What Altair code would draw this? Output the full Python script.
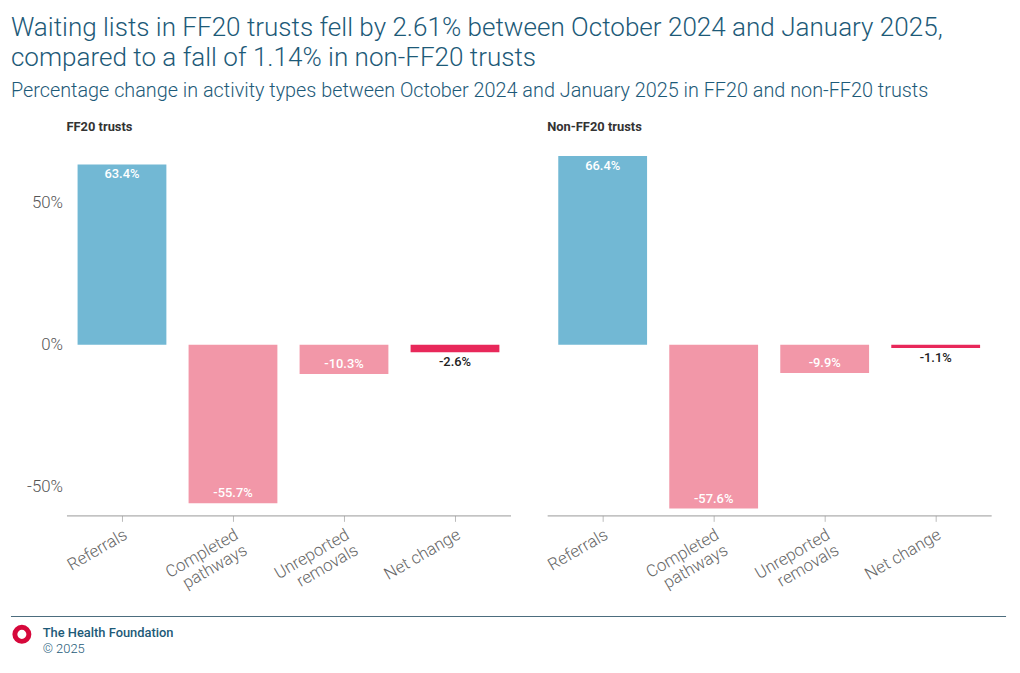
import altair as alt
import pandas as pd

categories = ["Referrals", "Completed pathways", "Unreported removals", "Net change"]
ff20_values = [63.4, -55.7, -10.3, -2.6]
nonff20_values = [66.4, -57.6, -9.9, -1.1]
panel_titles = ["FF20 trusts", "Non-FF20 trusts"]

BLUE = "#72b8d4"
PINK = "#f297a8"
RED = "#e8285a"
TEAL = "#1d5a78"
FONT = "Roboto"


def make_df(values):
    rows = []
    for c, v in zip(categories, values):
        kind = "net" if c == "Net change" else ("pos" if v >= 0 else "neg")
        rows.append({"category": c, "value": v, "kind": kind,
                     "label": f"{v:.1f}%"})
    return pd.DataFrame(rows)


def panel(values, title, show_y):
    df = make_df(values)
    base = alt.Chart(df)
    x = alt.X("category:N", sort=categories, title=None,
              scale=alt.Scale(paddingInner=0.2, paddingOuter=0.1),
              axis=alt.Axis(labelAngle=-30, labelAlign="right", labelBaseline="top",
                            labelExpr="datum.label == 'Net change' || datum.label == 'Referrals' ? datum.label : split(datum.label, ' ')",
                            labelFontSize=17, labelColor="#666", labelFont=FONT,
                            labelFontWeight=300, labelPadding=5,
                            domainColor="#999", tickColor="#bbb", tickSize=6,
                            labelLineHeight=18))
    y = alt.Y("value:Q", title=None,
              scale=alt.Scale(domain=[-60, 70], nice=False, zero=True),
              axis=alt.Axis(values=[-50, 0, 50], labelExpr="datum.value + '%'",
                            grid=False, domain=False, ticks=False,
                            labelFontSize=17, labelColor="#555", labelFont=FONT,
                            labelFontWeight=300, labelPadding=4,
                            labels=show_y))
    bars = base.mark_bar().encode(
        x=x, y=y, y2=alt.datum(0),
        color=alt.Color("kind:N", scale=alt.Scale(domain=["pos", "neg", "net"],
                                                   range=[BLUE, PINK, RED]),
                        legend=None),
    )
    pos_txt = base.transform_filter("datum.kind == 'pos'").mark_text(
        baseline="top", dy=4, color="white", fontSize=13, font=FONT, fontWeight=500
    ).encode(x=alt.X("category:N", sort=categories), y="value:Q", text="label:N")
    neg_txt = base.transform_filter("datum.kind == 'neg'").mark_text(
        baseline="bottom", dy=-3, color="white", fontSize=13, font=FONT, fontWeight=500
    ).encode(x=alt.X("category:N", sort=categories), y="value:Q", text="label:N")
    net_txt = base.transform_filter("datum.kind == 'net'").mark_text(
        baseline="top", dy=4, color="#222", fontSize=13, font=FONT, fontWeight=500
    ).encode(x=alt.X("category:N", sort=categories), y="value:Q", text="label:N")
    return alt.layer(bars, pos_txt, neg_txt, net_txt).properties(
        width=448, height=373,
        title=alt.TitleParams(title, anchor="start", frame="group", fontSize=13,
                              font=FONT, fontWeight="bold", color="#333", offset=12),
    )


left = panel(ff20_values, panel_titles[0], True)
right = panel(nonff20_values, panel_titles[1], False)

footer_df = pd.DataFrame({"org": ["The Health Foundation"], "year": ["© 2025"]})
fbase = alt.Chart(footer_df)
rule = fbase.mark_rule(color="#4a6b7c", strokeWidth=1).encode(
    x=alt.value(-56), x2=alt.value(948), y=alt.value(0))
logo = fbase.mark_point(shape="circle", filled=False, color="#d6083b", opacity=1,
                        strokeWidth=5, size=200).encode(
    x=alt.value(-45), y=alt.value(18))
org = fbase.mark_text(align="left", baseline="middle", fontSize=13, font=FONT,
                      fontWeight=500, color=TEAL).encode(
    x=alt.value(-24), y=alt.value(17), text="org:N")
yr = fbase.mark_text(align="left", baseline="middle", fontSize=13, font=FONT,
                     fontWeight=300, color=TEAL).encode(
    x=alt.value(-24), y=alt.value(33), text="year:N")
footer = alt.layer(rule, logo, org, yr).properties(width=900, height=45)

top = alt.hconcat(left, right, spacing=34)
chart = alt.vconcat(top, footer, spacing=18).properties(
    title=alt.TitleParams(
        ["Waiting lists in FF20 trusts fell by 2.61% between October 2024 and January 2025,",
         "compared to a fall of 1.14% in non-FF20 trusts"],
        subtitle=["Percentage change in activity types between October 2024 and January 2025 in FF20 and non-FF20 trusts"],
        anchor="start", fontSize=26.3, font=FONT, fontWeight=300, color=TEAL,
        lineHeight=30, subtitleFontSize=20, subtitleFont=FONT, subtitleColor=TEAL,
        subtitleFontWeight=300, subtitlePadding=10, offset=20, dx=6),
    padding={"left": -4, "top": 4, "right": 5, "bottom": 5},
).configure_view(stroke=None)

chart.save("out.html", embed_options={"renderer": "svg", "actions": False})
